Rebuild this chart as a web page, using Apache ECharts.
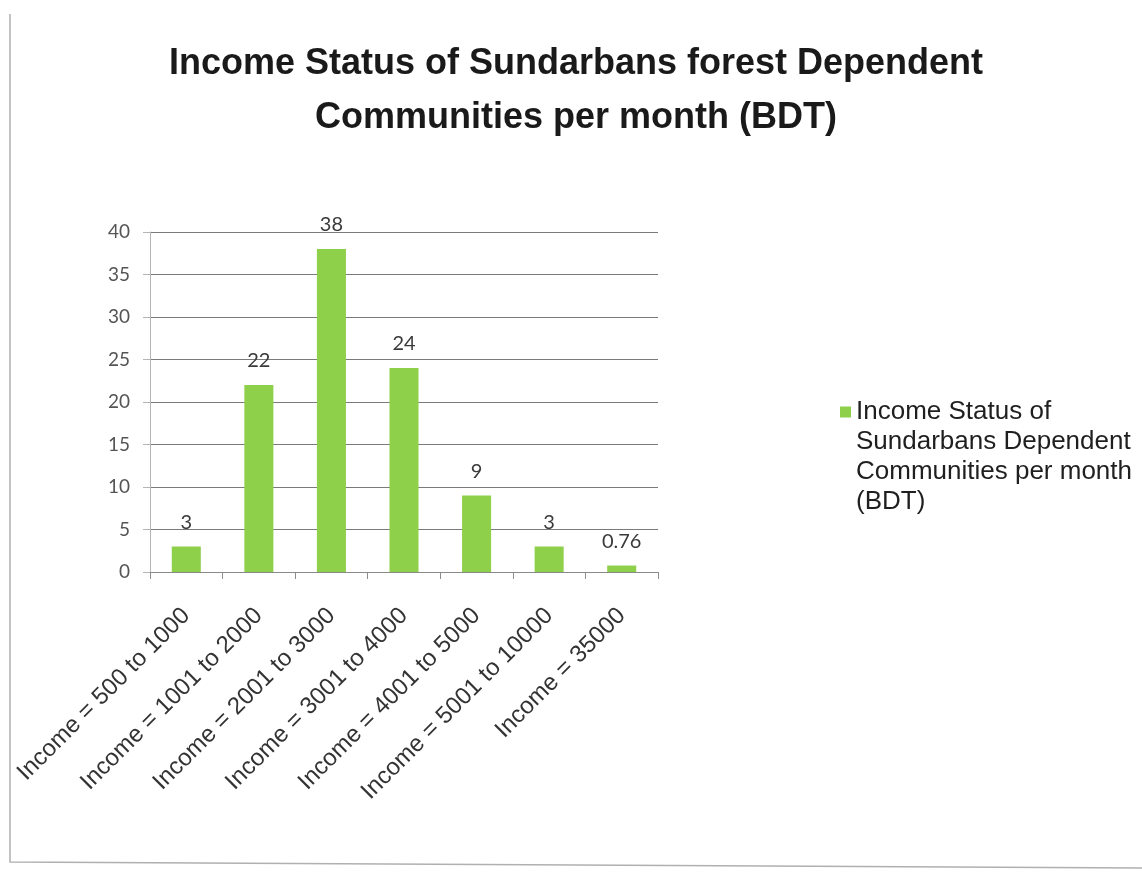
<!DOCTYPE html>
<html>
<head>
<meta charset="utf-8">
<script src="https://cdn.jsdelivr.net/npm/echarts@6/dist/echarts.min.js"></script>
<style>
  html, body { margin: 0; padding: 0; background: #ffffff; }
  #chart { width: 1142px; height: 878px; }
</style>
</head>
<body>
<div id="chart"></div>
<script>
// Monthly income brackets (BDT) and share of households in each
const categories = [
  'Income = 500 to 1000',
  'Income = 1001 to 2000',
  'Income = 2001 to 3000',
  'Income = 3001 to 4000',
  'Income = 4001 to 5000',
  'Income = 5001 to 10000',
  'Income = 35000'
];
const values = [3, 22, 38, 24, 9, 3, 0.76];
const yTicks = [0, 5, 10, 15, 20, 25, 30, 35, 40];
const seriesName = 'Income Status of\nSundarbans Dependent\nCommunities per month\n(BDT)';
const titleText = 'Income Status of Sundarbans forest Dependent\nCommunities per month (BDT)';

const chart = echarts.init(document.getElementById('chart'));
chart.setOption({
  backgroundColor: '#ffffff',
  animation: false,
  title: {
    text: titleText,
    left: 571,
    top: 32,
    textAlign: 'center',
    textStyle: {
      fontFamily: 'Liberation Sans, Arial, sans-serif',
      fontSize: 36,
      fontWeight: 'bold',
      color: '#1a1a1a',
      lineHeight: 54
    }
  },
  legend: {
    left: 835,
    top: 302,
    icon: 'rect',
    itemWidth: 11,
    itemHeight: 11,
    itemGap: 0,
    selectedMode: false,
    data: [seriesName],
    // three blank lines above the name keep the swatch level with its first line
    formatter: function (name) { return '\n\n\n' + name; },
    textStyle: {
      fontFamily: 'Liberation Sans, Arial, sans-serif',
      fontSize: 26,
      color: '#1f1f1f',
      lineHeight: 30
    }
  },
  grid: {
    left: 150,
    right: 484,
    top: 232,
    bottom: 306,
    containLabel: false
  },
  xAxis: {
    type: 'category',
    data: categories,
    axisLine: { lineStyle: { color: '#8a8a8a', width: 1 } },
    axisTick: { show: true, length: 7, lineStyle: { color: '#8a8a8a' } },
    axisLabel: {
      rotate: 45,
      interval: 0,
      margin: 40,
      fontFamily: 'Liberation Sans, Arial, sans-serif',
      fontSize: 24,
      color: '#333333'
    }
  },
  yAxis: {
    type: 'value',
    min: yTicks[0],
    max: yTicks[yTicks.length - 1],
    interval: yTicks[1] - yTicks[0],
    axisLine: { show: true, lineStyle: { color: '#b5b5b5' } },
    axisTick: { show: true, length: 7, lineStyle: { color: '#b5b5b5' } },
    splitLine: { lineStyle: { color: '#7a7a7a', width: 1 } },
    axisLabel: {
      margin: 20,
      fontFamily: 'Lato, Carlito, sans-serif',
      fontSize: 19,
      color: '#555555'
    }
  },
  series: [{
    name: seriesName,
    type: 'bar',
    data: values,
    barWidth: '40%',
    itemStyle: { color: '#8fd04a' },
    label: {
      show: true,
      position: 'top',
      distance: 14,
      fontFamily: 'Lato, Carlito, sans-serif',
      fontSize: 20,
      color: '#3a3a3a'
    }
  }],
  graphic: [{
    type: 'polyline',
    shape: { points: [[10, 14], [10, 862], [1142, 868]] },
    style: { fill: 'none', stroke: '#b0b0b0', lineWidth: 1.5 },
    silent: true
  }]
});
</script>
</body>
</html>
